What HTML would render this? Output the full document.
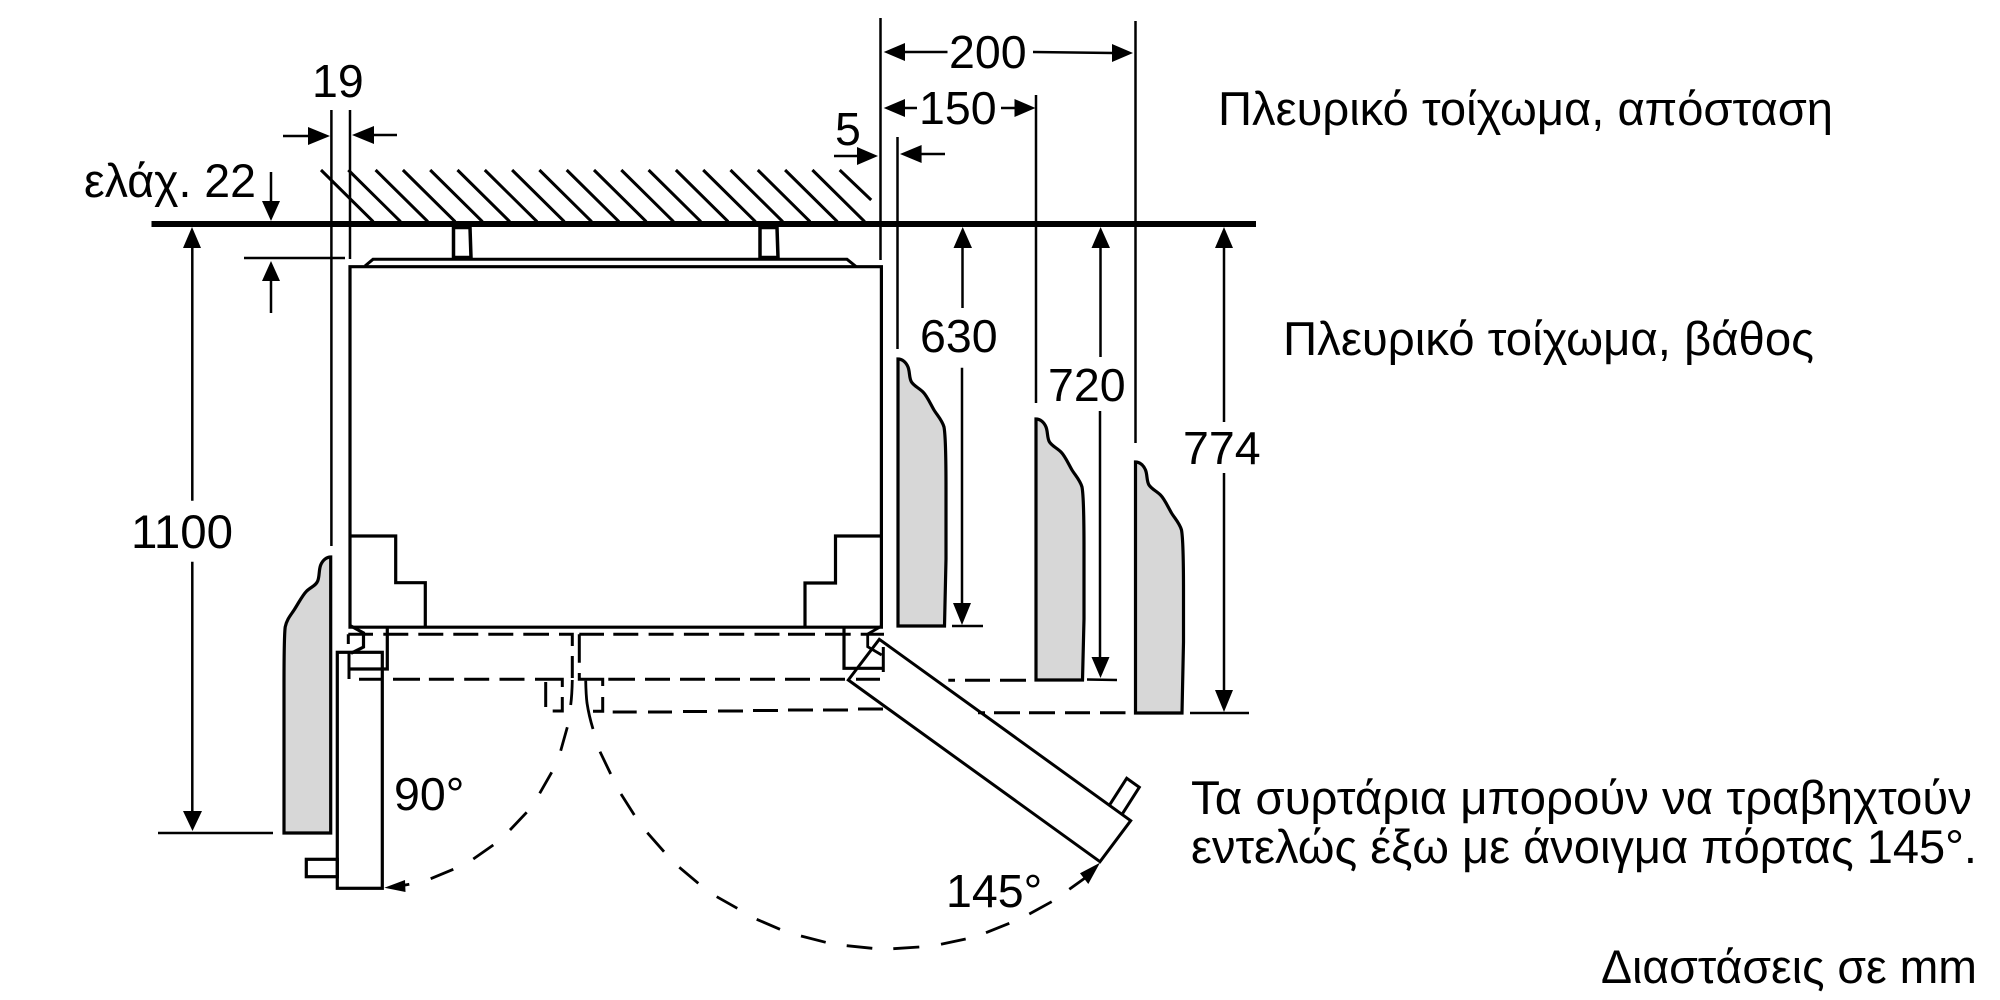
<!DOCTYPE html>
<html><head><meta charset="utf-8"><style>
html,body{margin:0;padding:0;background:#fff;width:2000px;height:1000px;overflow:hidden}
svg{display:block}
text{font-family:"Liberation Sans","DejaVu Sans",sans-serif;font-size:47px;fill:#000}
text.n{font-size:46.5px}
</style></head><body>
<svg width="2000" height="1000" viewBox="0 0 2000 1000" xmlns="http://www.w3.org/2000/svg">
<rect width="2000" height="1000" fill="#fff"/>
<!-- grey walls -->
<g fill="#d7d7d7" stroke="#000" stroke-width="3.2" stroke-linejoin="miter">
<path transform="translate(898,359)" d="M0 0C4 0 8 3 10 8C12 13 11 19 13.500 23C16 27 21 29 25 33C29 37 32 44 36 51C39 56 44 61 46 68C47.500 76 48 100 48 130L48 200L46.500 267H0Z"/>
<path transform="translate(1036,419)" d="M0 0C4 0 8 3 10 8C12 13 11 19 13.500 23C16 27 21 29 25 33C29 37 32 44 36 51C39 56 44 61 46 68C47.500 76 48 100 48 130L48 200L46.500 261H0Z"/>
<path transform="translate(1135.500,462)" d="M0 0C4 0 8 3 10 8C12 13 11 19 13.500 23C16 27 21 29 25 33C29 37 32 44 36 51C39 56 44 61 46 68C47.500 76 48 100 48 130L48 180L46.500 251H0Z"/>
<path transform="translate(330.700,557) scale(-1,1)" d="M0 0C4 0 8 3 10 8C12 13 11 19 13 24C15 29 20 30 24 34C28 38 31 44 36 52C39 57 44 62 45.500 70C46.500 78 46.700 100 46.700 130V276H0Z"/>
</g>
<!-- main wall -->
<rect x="151.500" y="221" width="1104.500" height="6" fill="#000"/>
<!-- hatch -->
<path fill="none" stroke="#000" stroke-width="3" d="M321 170l52.300 51.700M348.300 170l52.300 51.700M375.600 170l52.300 51.700M402.900 170l52.300 51.700M430.200 170l52.300 51.700M457.500 170l52.300 51.700M484.800 170l52.300 51.700M512.100 170l52.300 51.700M539.400 170l52.300 51.700M566.700 170l52.300 51.700M594 170l52.300 51.700M621.300 170l52.300 51.700M648.600 170l52.300 51.700M675.900 170l52.300 51.700M703.200 170l52.300 51.700M730.500 170l52.300 51.700M757.800 170l52.300 51.700M785.100 170l52.300 51.700M812.400 170l52.300 51.700M839.700 170l31.500 30"/>
<!-- fridge body -->
<g fill="none" stroke="#000" stroke-width="3.200">
<path d="M350 266.700H881.400V627.200H350Z"/>
<path d="M365 266L373 259.300H847L856 266.500" stroke-width="3"/>
<path d="M453.500 227.500H470L471 257.500H453.500Z" stroke-width="3.500"/>
<path d="M760 227.500H777L778 257.500H760Z" stroke-width="3.500"/>
<path d="M350 536H395.700V582.700H425.300V627"/>
<path d="M881 536H835.500V583H805V627"/>
<path d="M387.300 627V669H350"/>
<path d="M844 627V668.300H884"/>
<path d="M350 625.500L363.500 633V647L351 653.300"/>
<path d="M881.700 626L867.700 634V646.700L881.700 655" stroke-width="2.800"/>
<path d="M883.300 647V672" stroke-width="3"/>
<path d="M349 653V679" stroke-width="3"/>
<!-- 90 door -->
<rect x="337.300" y="652.300" width="45" height="236"/>
<rect x="306.300" y="859.300" width="31" height="17.400"/>
<!-- 145 door -->
<path d="M879.300 639.300L1130.700 820.700L1100 861.700L848.300 680Z" stroke-width="3"/>
<path d="M1110 804.300L1126.700 778.300L1139.300 787.300L1122.700 813.300" stroke-width="3"/>
</g>
<!-- dashes -->
<path fill="none" stroke="#000" stroke-width="3" d="
M348.300 634.300H373M383.300 634.300H408.300M418.300 634.300H443.300M453.300 634.300H478.300M488.300 634.300H513.300M523.300 634.300H549M559 634.300H572.300V646M572.300 656V678
M348.300 634.300V644
M579.300 634.300V662.700M579.300 673V679.300H602.700V686M602.700 697V711.300H593
M579.300 634.300H604M613.300 634.300H638.300M648.600 634.300H673.600M683.900 634.300H708.900M719.200 634.300H744.200M754.500 634.300H779.500M788 634.300H815M825 634.300H850.700M860.700 634.300H884
M359 679.300H383M393 679.300H420M428.900 679.300H453.900M464.200 679.300H489.200M499.500 679.300H524.500M535 679.300H562.300V687M562.300 697V711H552.700M545.700 682V707
M608.300 679.300H635M645 679.300H670M680 679.300H705M715 679.300H740M750 679.300H775M785 679.300H810M820 679.300H845M856 679.300H880
M948.300 680.300H955M965 680.300H990M1000 680.300H1026
M612.700 712H636.700M648 712H672M683 711.500H707M718 711H743M753 710.500H778M788 710H813M823 710H848M858 709H883
M978 712.700H985M994 712.700H1020M1029 712.700H1055M1065 712.700H1090M1100 712.700H1125.500
"/>
<!-- arcs -->
<path fill="none" stroke="#000" stroke-width="2.800" d="
M570.700 705Q572 695 572.300 680M567.300 727.300L560.700 750.700M551.700 772.300L539.700 793.300M526.700 812.300L510 830M493.300 845L473.300 859M453.300 869.300L430.700 878.700M409.300 884.300L400 886
M585.700 680.700Q586 695 587 703Q589 716 593 729M600 751.700L610.700 774M621 794L634.300 815M647.300 832.700L664 851.700M679.300 867.300L698.300 883.300M716.700 896.700L737.300 908.300
M756.700 919.300L780 929.300M801 936L825.700 942.300M846.700 945.700L872.300 948.300M893.300 948.700L919.300 947M941 944.300L965.700 939M986 932.700L1009.300 923.300M1029.300 914L1051.700 901.700M1069.300 889.300L1085 878
"/>
<polygon points="384.300,887.700 405,880 405.500,892"/>
<polygon points="1100,862.700 1080,873.300 1088.300,884"/>
<!-- dimension lines -->
<path fill="none" stroke="#000" stroke-width="2.500" d="
M331.400 110V546M350 110V259
M880.500 18V260M897.500 137V349M1036 95V403M1135.500 21V443
M283 136H310M374 135H397
M244 258H345M271 172V203M271 279V313
M192.300 246V500.700M192.300 561.700V815M158 833H273
M947.500 52H905M1033 52L1113 53M917 108H905M1001 108H1015M834 156H858M921 154H945
M962.500 246V308M962 367.700V605M952 626H983
M1100.500 246V357M1100 411V659M1087 679.500L1117 680
M1224 246V422M1224 473V692M1190 713H1249
"/>
<g>
<polygon points="330,136 308,127 308,145"/>
<polygon points="352,135 374,126 374,144"/>
<polygon points="271,221 262,201 280,201"/>
<polygon points="271,261 262,281 280,281"/>
<polygon points="192,227 183,248 201,248"/>
<polygon points="192.500,831 183,811 202,811"/>
<polygon points="883.700,52 905,43 905,61"/>
<polygon points="1133,53 1112,44 1112,62"/>
<polygon points="883.700,108 905,99 905,117"/>
<polygon points="1035.500,108 1014.500,99 1014.500,117"/>
<polygon points="878,156 857,147 857,165"/>
<polygon points="900,154 921.600,145 921.600,163"/>
<polygon points="962.700,227 953.500,248 972,248"/>
<polygon points="962,625 953,603 971,603"/>
<polygon points="1100.600,227 1091.500,248 1110,248"/>
<polygon points="1100.500,678 1091.500,657 1109.500,657"/>
<polygon points="1224,227 1215,248 1233,248"/>
<polygon points="1224,712 1215,690 1233,690"/>
</g>
<!-- text -->
<text class="n" x="312" y="97">19</text>
<text x="84" y="197" textLength="172" lengthAdjust="spacingAndGlyphs">ελάχ. 22</text>
<text class="n" x="949" y="68">200</text>
<text class="n" x="919" y="124">150</text>
<text class="n" x="835" y="145">5</text>
<text class="n" x="920" y="352">630</text>
<text class="n" x="1048" y="401">720</text>
<text class="n" x="1183" y="464">774</text>
<text x="131" y="548" textLength="102" lengthAdjust="spacingAndGlyphs">1100</text>
<text class="n" x="394" y="810">90°</text>
<text class="n" x="946" y="907">145°</text>
<text x="1218" y="125" textLength="615" lengthAdjust="spacingAndGlyphs">Πλευρικό τοίχωμα, απόσταση</text>
<text x="1283" y="355" textLength="531" lengthAdjust="spacingAndGlyphs">Πλευρικό τοίχωμα, βάθος</text>
<text x="1191" y="814" textLength="781" lengthAdjust="spacingAndGlyphs">Τα συρτάρια μπορούν να τραβηχτούν</text>
<text x="1191" y="863" textLength="786" lengthAdjust="spacingAndGlyphs">εντελώς έξω με άνοιγμα πόρτας 145°.</text>
<text x="1601" y="983" textLength="376" lengthAdjust="spacingAndGlyphs">Διαστάσεις σε mm</text>
</svg>
</body></html>
